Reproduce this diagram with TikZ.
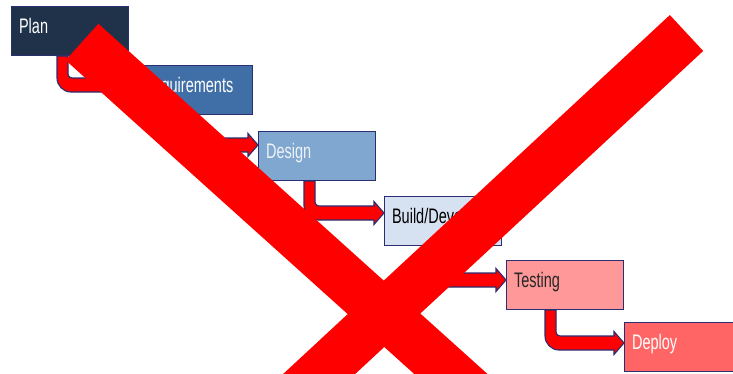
\documentclass[tikz,border=0pt]{standalone}
\usepackage{fontspec}
\setmainfont{Liberation Sans}
\usetikzlibrary{calc,backgrounds}

\definecolor{edge}{HTML}{2B2E70}
\definecolor{planfill}{HTML}{1F3249}
\definecolor{reqfill}{HTML}{3F6FA6}
\definecolor{designfill}{HTML}{80A7CF}
\definecolor{buildfill}{HTML}{D6E2F1}
\definecolor{testfill}{HTML}{FF9999}
\definecolor{deployfill}{HTML}{FF6565}
\definecolor{lighttext}{HTML}{EEF2F6}
\definecolor{cross}{HTML}{FF0000}

\tikzset{
  stage/.style={draw=edge, line width=1.1pt, rectangle, anchor=north west,
    minimum width=117pt, minimum height=49pt, text width=102pt,
    inner xsep=7.5pt, inner ysep=0pt, align=left,
    text height=15pt, text depth=11pt,
    font=\fontsize{14.5}{16}\selectfont},
  flowarrow/.style={draw=edge, line width=1.1pt, fill=red, line join=miter},
  crossbar/.style={draw=cross, line width=49pt, line cap=butt}
}

% tall, narrow lettering
\newcommand\tall[1]{\scalebox{1}[1.45]{#1}}

% bent block arrow: #1 source, #2 target, #3 shaft offset, #4 band offset below target top
\newcommand\stepflow[4]{%
  \filldraw[flowarrow] let \p1=(#1.south west), \p2=(#2.north west),
      \n1={\x1+#3pt}, \n2={\x1+#3pt+11pt},
      \n3={\y2-#4pt-7pt}, \n4={\y2-#4pt+7pt}, \n5={\y2-#4pt},
      \n6={\x2-10pt} in
    (\n1,\y1) -- (\n1,\n3+14pt)
    .. controls (\n1,\n3+6.3pt) and (\n1+6.3pt,\n3) .. (\n1+14pt,\n3)
    -- (\n6,\n3) -- (\n6,\n3-4.5pt) -- (\x2,\n5) -- (\n6,\n4+4.5pt) -- (\n6,\n4)
    -- (\n2+4pt,\n4)
    .. controls (\n2+1.8pt,\n4) and (\n2,\n4+1.8pt) .. (\n2,\n4+4pt)
    -- (\n2,\y1) -- cycle;
}

\begin{document}
\begin{tikzpicture}[x=1pt,y=1pt]
\useasboundingbox (0,0) rectangle (733,-373);
\clip (0,0) rectangle (733,-373);

% process stages
\node[stage, fill=planfill, text=white] (plan) at (11,-6) {\tall{Plan}};
\node[stage, fill=reqfill, text=white] (req) at (135,-65) {\tall{Requirements}};
\node[stage, fill=designfill, text=lighttext] (design) at (258,-131) {\tall{Design}};
\node[stage, fill=buildfill, text=black] (build) at (384,-196) {\tall{Build/Develop}};
\node[stage, fill=testfill, text=black!85] (test) at (506,-260) {\tall{Testing}};
\node[stage, fill=deployfill, text=white] (deploy) at (624,-322) {\tall{Deploy}};

% connectors run underneath the boxes
\begin{scope}[on background layer]
  \stepflow{plan}{req}{46}{20}
  \stepflow{req}{design}{46}{14}
  \stepflow{design}{build}{46}{17}
  \stepflow{build}{test}{46}{20}
  \stepflow{test}{deploy}{39}{21}
\end{scope}

% big red cross over everything
\coordinate (xa) at (82,-42);
\coordinate (xb) at (482,-402);
\coordinate (xc) at (686.5,-33);
\coordinate (xd) at (289,-402);
\draw[crossbar] (xa) -- (xb);
\draw[crossbar] (xc) -- (xd);
\end{tikzpicture}
\end{document}
